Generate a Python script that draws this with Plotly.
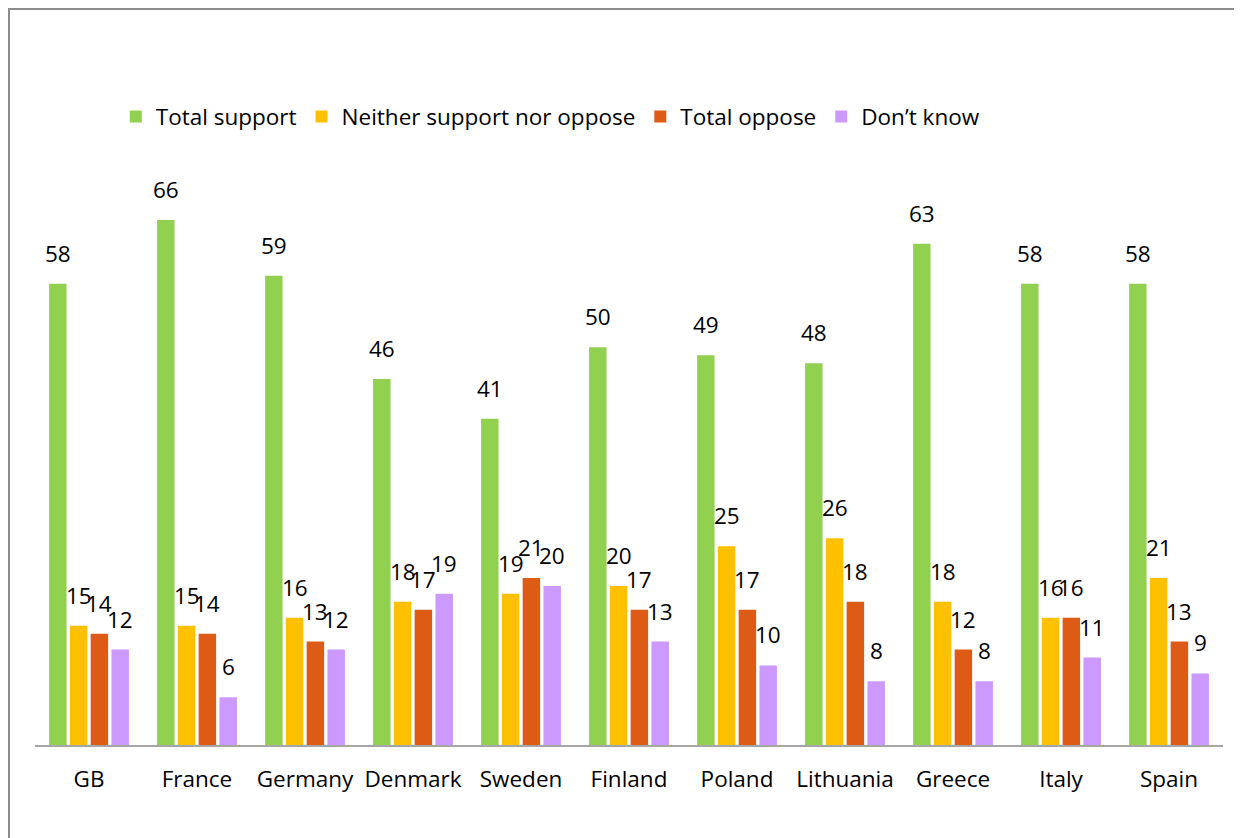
import plotly.graph_objects as go

countries = ["GB", "France", "Germany", "Denmark", "Sweden", "Finland", "Poland",
             "Lithuania", "Greece", "Italy", "Spain"]
total_support = [58, 66, 59, 46, 41, 50, 49, 48, 63, 58, 58]
neither = [15, 15, 16, 18, 19, 20, 25, 26, 18, 16, 21]
total_oppose = [14, 14, 13, 17, 21, 17, 17, 18, 12, 16, 13]
dont_know = [12, 6, 12, 19, 20, 13, 10, 8, 8, 11, 9]

series = [
    ("Total support", total_support, "#92D050"),
    ("Neither support nor oppose", neither, "#FFC000"),
    ("Total oppose", total_oppose, "#DD5B14"),
    ("Don\u2019t know", dont_know, "#CC99FF"),
]

FONT = "'Open Sans', Lato, sans-serif"
FS = 22.5

W, H = 1242, 838
ML, MR, MT, MB = 27, 27, 142, 101
plot_w = W - ML - MR
cat_w = plot_w / len(countries)
bargap, bargroupgap = 0.23, 0.16
slot_w = cat_w * (1 - bargap) / len(series)

fig = go.Figure()
annotations = []
for i, (name, vals, color) in enumerate(series):
    fig.add_trace(go.Bar(
        x=countries, y=vals, name=name,
        marker=dict(color=color, line=dict(width=0)),
    ))
    xshift = (i - (len(series) - 1) / 2) * slot_w
    for c, v in zip(countries, vals):
        annotations.append(dict(
            x=c, y=v, xref="x", yref="y", text=str(v), showarrow=False,
            xanchor="center", yanchor="bottom", xshift=xshift, yshift=13,
            font=dict(size=FS, color="#000000", family=FONT),
        ))

fig.update_layout(
    width=W, height=H,
    barmode="group", bargap=bargap, bargroupgap=bargroupgap,
    plot_bgcolor="white", paper_bgcolor="white",
    margin=dict(l=ML, r=MR, t=MT, b=MB),
    font=dict(family=FONT, size=FS, color="#000000"),
    showlegend=True,
    legend=dict(orientation="h", x=0.068, xanchor="left", y=1.0555, yanchor="middle",
                font=dict(size=FS, family=FONT), itemwidth=30, traceorder="normal",
                bgcolor="rgba(0,0,0,0)", tracegroupgap=0),
    xaxis=dict(showline=True, linecolor="#A6A6A6", linewidth=2, ticks="",
               showgrid=False, tickfont=dict(size=FS, family=FONT),
               ticklabelstandoff=13),
    yaxis=dict(range=[0, 74.8], visible=False, showgrid=False, zeroline=False),
    annotations=annotations,
    shapes=[dict(type="rect", xref="paper", yref="paper",
                 x0=-0.0219, x1=1.2, y0=-0.5, y1=1.237,
                 line=dict(color="#8C8C8C", width=2), layer="below")],
)

fig.write_html("out.html")
